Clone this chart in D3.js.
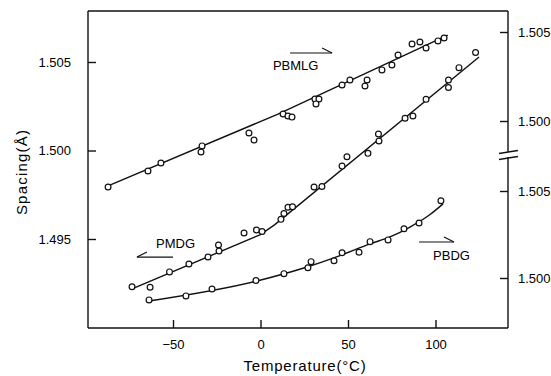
<!DOCTYPE html>
<html><head><meta charset="utf-8">
<script src="https://cdn.jsdelivr.net/npm/d3@7/dist/d3.min.js"></script>
<style>
body{margin:0;background:#fff}
svg{display:block}
text{font-family:"Liberation Sans",Arial,sans-serif;fill:#000}
</style>
</head><body>
<svg id="chart" width="551" height="376"></svg>
<script>
// ---- data ----
const xTicks = [-50, 0, 50, 100];
const leftTicks = [1.495, 1.500, 1.505];
const rightTicks = [1.500, 1.505];
const xTitle = "Temperature(°C)";
const yTitle = "Spacing(Å)";

// PBMLG (right axis, upper part)
const pbmlgT = [-87.1,-64.3,-56.9,-33.4,-34.0,-6.6,-3.7,12.9,15.7,18.0,31.1,33.4,31.7,46.6,51.1,60.9,59.7,69.4,75.1,78.6,86.6,91.1,94.6,101.4,104.9];
const pbmlgV = [1.49629,1.49719,1.49764,1.49860,1.49826,1.49933,1.49893,1.50039,1.50028,1.50022,1.50124,1.50124,1.50096,1.50202,1.50230,1.50230,1.50197,1.50287,1.50315,1.50371,1.50433,1.50444,1.50410,1.50450,1.50466];
const pbmlgFitT = [-87.1, 10.0, 107.0];
const pbmlgFitV = [1.49635, 1.50039, 1.50483];

// PMDG (left axis)
const pmdgT = [-73.4,-63.1,-52.0,-40.9,-30.0,-24.0,-23.7,-9.4,-2.3,0.9,11.7,13.4,15.7,18.3,30.6,35.1,46.6,49.4,61.4,67.4,67.7,82.6,87.1,94.6,107.4,107.4,113.4,122.9];
const pmdgV = [1.49230,1.49227,1.49314,1.49359,1.49398,1.49466,1.49432,1.49534,1.49551,1.49542,1.49611,1.49644,1.49679,1.49682,1.49794,1.49797,1.49912,1.49965,1.49984,1.50093,1.50054,1.50182,1.50195,1.50289,1.50398,1.50356,1.50468,1.50554];
const pmdgFitT = [-73.4, 0.0, 8.0, 124.9];
const pmdgFitV = [1.49218, 1.49525, 1.49580, 1.50528];

// PBDG (right axis, lower part)
const pbdgT = [-63.7,-42.6,-27.7,-2.6,13.4,27.1,28.9,42.0,46.6,56.3,62.6,72.9,82.0,90.6,103.1];
const pbdgV = [1.49874,1.49897,1.49937,1.49986,1.50025,1.50059,1.50094,1.50099,1.50145,1.50148,1.50209,1.50219,1.50283,1.50316,1.50444];
const pbdgFitT = [-63.7,-2.0,14.0,28.3,45.4,62.6,74.0,85.4,96.9,104.3];
const pbdgFitV = [1.49868,1.49983,1.50026,1.50069,1.50129,1.50196,1.50236,1.50293,1.50365,1.50426];

// ---- layout ----
const frame = {left: 88, right: 508, top: 11, bottom: 328};
const svg = d3.select("#chart");

const x = d3.scaleLinear().domain([-50, 100]).range([173, 435.5]);
const yL = d3.scaleLinear().domain([1.495, 1.505]).range([239, 62]);
const yRU = d3.scaleLinear().domain([1.500, 1.505]).range([121, 32]);
const yRL = d3.scaleLinear().domain([1.500, 1.505]).range([278, 191]);

const ink = "#111";

// frame (right side has a break)
const fr = svg.append("g").attr("stroke", ink).attr("stroke-width", 1.4).attr("fill", "none");
fr.append("line").attr("x1", frame.left).attr("x2", frame.left).attr("y1", frame.top).attr("y2", frame.bottom);
fr.append("line").attr("x1", frame.left).attr("x2", frame.right).attr("y1", frame.top).attr("y2", frame.top);
fr.append("line").attr("x1", frame.left).attr("x2", frame.right).attr("y1", frame.bottom).attr("y2", frame.bottom);
fr.append("line").attr("x1", frame.right).attr("x2", frame.right).attr("y1", frame.top).attr("y2", 152);
fr.append("line").attr("x1", frame.right).attr("x2", frame.right).attr("y1", 157).attr("y2", frame.bottom);
fr.append("line").attr("x1", frame.right - 9).attr("x2", frame.right + 10).attr("y1", 153.5).attr("y2", 150.5);
fr.append("line").attr("x1", frame.right - 9).attr("x2", frame.right + 10).attr("y1", 159.5).attr("y2", 156.5);

function styleAxis(g) {
  g.select(".domain").remove();
  g.selectAll(".tick line").attr("stroke", ink).attr("stroke-width", 1.4);
  g.selectAll(".tick text").attr("font-size", 13).attr("fill", "#000")
    .style("font-family", '"Liberation Sans", Arial, sans-serif');
}

svg.append("g").attr("transform", `translate(0,${frame.bottom})`)
  .call(d3.axisBottom(x).tickValues(xTicks).tickSize(-8).tickPadding(12)
    .tickFormat(d => d < 0 ? "\u2212" + Math.abs(d) : d))
  .call(styleAxis);

svg.append("g").attr("transform", `translate(${frame.left},0)`)
  .call(d3.axisLeft(yL).tickValues(leftTicks).tickSize(-8).tickPadding(17).tickFormat(d3.format(".3f")))
  .call(styleAxis);

svg.append("g").attr("transform", `translate(${frame.right},0)`)
  .call(d3.axisRight(yRU).tickValues(rightTicks).tickSize(-8).tickPadding(10).tickFormat(d3.format(".3f")))
  .call(styleAxis);

svg.append("g").attr("transform", `translate(${frame.right},0)`)
  .call(d3.axisRight(yRL).tickValues(rightTicks).tickSize(-8).tickPadding(10).tickFormat(d3.format(".3f")))
  .call(styleAxis);

// axis titles
svg.append("text").attr("x", 305).attr("y", 371).attr("text-anchor", "middle")
  .attr("font-size", 15).attr("letter-spacing", 0.8).text(xTitle);
svg.append("text").attr("transform", "translate(27,172) rotate(-90)").attr("text-anchor", "middle")
  .attr("font-size", 15).attr("letter-spacing", 1.2).text(yTitle);

// series
function drawSeries(T, V, fT, fV, ys, curve) {
  const g = svg.append("g");
  const line = d3.line().x(d => x(d[0])).y(d => ys(d[1])).curve(curve);
  g.append("path").datum(d3.zip(fT, fV)).attr("d", line)
    .attr("fill", "none").attr("stroke", ink).attr("stroke-width", 1.4);
  g.selectAll("circle").data(d3.zip(T, V)).join("circle")
    .attr("cx", d => x(d[0])).attr("cy", d => ys(d[1])).attr("r", 2.9)
    .attr("fill", "#fff").attr("stroke", ink).attr("stroke-width", 1.2);
}
drawSeries(pbmlgT, pbmlgV, pbmlgFitT, pbmlgFitV, yRU, d3.curveLinear);
drawSeries(pmdgT, pmdgV, pmdgFitT, pmdgFitV, yL, d3.curveLinear);
drawSeries(pbdgT, pbdgV, pbdgFitT, pbdgFitV, yRL, d3.curveMonotoneX);

// series labels with direction arrows (placed in data units)
const labelNames = ["PBMLG", "PMDG", "PBDG"];
const labelScales = [yRU, yL, yRL];
const labelT = [7.1, -59.7, 98.6];
const labelV = [1.50287, 1.49449, 1.50104];
const arrowT0 = [16.9, -70.6, 90.6];
const arrowT1 = [40.9, -50.0, 110.6];
const arrowV = [1.50382, 1.49398, 1.50207];
const arrowDir = [1, -1, 1];

labelNames.forEach((name, i) => {
  const ys = labelScales[i];
  svg.append("text").attr("x", x(labelT[i])).attr("y", ys(labelV[i]))
    .attr("font-size", 13).text(name);
  const y0 = ys(arrowV[i]);
  const xa = x(arrowT0[i]), xb = x(arrowT1[i]);
  const tip = arrowDir[i] > 0 ? xb : xa;
  const a = svg.append("g").attr("stroke", ink).attr("stroke-width", 1.2).attr("fill", "none");
  a.append("line").attr("x1", xa).attr("x2", xb).attr("y1", y0).attr("y2", y0);
  a.append("line").attr("x1", tip).attr("y1", y0)
    .attr("x2", tip - arrowDir[i] * 10).attr("y2", y0 - 5);
});
</script>
</body></html>
